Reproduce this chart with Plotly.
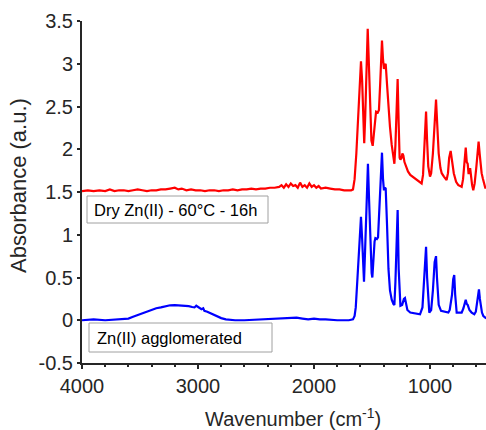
import plotly.graph_objects as go

# Dry Zn(II) - 60°C - 16h (red, offset spectrum)
red_wn = [4000, 3950, 3900, 3850, 3800, 3760, 3720, 3680, 3640, 3600, 3560, 3520, 3480, 3440, 3400, 3360,
          3320, 3280, 3240, 3200, 3170, 3140, 3100, 3060, 3020, 2980, 2940, 2900, 2860, 2820, 2780, 2740,
          2700, 2660, 2620, 2580, 2540, 2500, 2460, 2420, 2380, 2340, 2300, 2280, 2260, 2240, 2220, 2200,
          2180, 2160, 2140, 2120, 2100, 2080, 2060, 2040, 2020, 2000, 1980, 1960, 1940, 1900, 1860, 1820,
          1780, 1740, 1700, 1680, 1664, 1650, 1635, 1620, 1605, 1595, 1585, 1575, 1567, 1558, 1548, 1537,
          1527, 1515, 1505, 1494, 1485, 1475, 1465, 1450, 1440, 1430, 1420, 1414, 1405, 1397, 1390, 1382,
          1370, 1358, 1345, 1330, 1315, 1307, 1298, 1288, 1279, 1270, 1262, 1255, 1245, 1238, 1230, 1220,
          1207, 1190, 1170, 1150, 1130, 1110, 1090, 1072, 1060, 1050, 1040, 1034, 1025, 1015, 1000, 990,
          975, 960, 948, 938, 925, 910, 899, 880, 857, 845, 835, 822, 810, 795, 775, 756, 740, 727, 715,
          703, 692, 683, 675, 668, 661, 654, 646, 637, 627, 615, 600, 590, 581, 572, 563, 555, 545, 535,
          524, 515]
red_abs = [1.51, 1.52, 1.51, 1.52, 1.51, 1.53, 1.51, 1.52, 1.52, 1.51, 1.52, 1.53, 1.52, 1.51, 1.52, 1.52,
           1.53, 1.53, 1.54, 1.55, 1.53, 1.54, 1.52, 1.53, 1.52, 1.52, 1.51, 1.52, 1.52, 1.51, 1.52, 1.52,
           1.53, 1.52, 1.53, 1.53, 1.54, 1.53, 1.54, 1.54, 1.55, 1.55, 1.56, 1.58, 1.55, 1.59, 1.56, 1.60,
           1.57, 1.58, 1.55, 1.61, 1.56, 1.58, 1.55, 1.60, 1.56, 1.58, 1.55, 1.57, 1.54, 1.55, 1.54, 1.53,
           1.53, 1.52, 1.52, 1.52, 1.53, 1.65, 1.95, 2.40, 2.85, 3.03, 2.80, 2.30, 2.07, 2.40, 3.05, 3.41,
           3.00, 2.40, 2.10, 2.04, 2.15, 2.35, 2.44, 2.43, 2.46, 2.75, 3.15, 3.27, 3.05, 2.94, 2.98, 3.00,
           2.75, 2.45, 2.26, 2.05, 1.90, 1.83, 2.05, 2.55, 2.82, 2.30, 1.90, 1.88, 1.90, 1.95, 1.93, 1.85,
           1.79, 1.74, 1.70, 1.68, 1.66, 1.64, 1.61, 1.60, 1.70, 2.05, 2.40, 2.44, 2.10, 1.80, 1.68, 1.72,
           1.95, 2.40, 2.58, 2.30, 1.95, 1.78, 1.72, 1.68, 1.64, 1.72, 1.90, 1.98, 1.88, 1.72, 1.62, 1.58,
           1.57, 1.56, 1.65, 1.90, 2.02, 1.85, 1.83, 1.72, 1.72, 1.78, 1.65, 1.58, 1.52, 1.60, 1.80, 2.00,
           2.09, 1.95, 1.80, 1.72, 1.66, 1.60, 1.55, 1.55]

# Zn(II) agglomerated (blue)
blue_wn = [4000, 3900, 3800, 3700, 3640, 3600, 3560, 3520, 3480, 3440, 3400, 3360, 3320, 3280, 3240, 3200,
           3160, 3120, 3080, 3050, 3030, 3015, 3005, 2990, 2970, 2955, 2945, 2920, 2890, 2860, 2830, 2800,
           2760, 2720, 2680, 2600, 2500, 2400, 2350, 2300, 2250, 2200, 2150, 2100, 2050, 2000, 1950, 1900,
           1850, 1800, 1700, 1664, 1650, 1640, 1625, 1610, 1595, 1585, 1575, 1569, 1560, 1548, 1535, 1525,
           1512, 1503, 1497, 1488, 1478, 1471, 1458, 1448, 1438, 1425, 1414, 1405, 1397, 1390, 1382, 1370,
           1358, 1345, 1330, 1315, 1307, 1298, 1288, 1279, 1270, 1262, 1255, 1240, 1225, 1216, 1207, 1195,
           1170, 1130, 1086, 1065, 1050, 1040, 1034, 1025, 1015, 1006, 990, 975, 960, 948, 940, 925, 905,
           880, 842, 830, 822, 810, 800, 791, 783, 775, 770, 745, 727, 712, 700, 692, 683, 675, 670, 660,
           641, 618, 605, 592, 585, 578, 570, 562, 552, 540, 524, 515]
blue_abs = [0.00, 0.01, 0.00, 0.01, 0.01, 0.02, 0.04, 0.06, 0.08, 0.10, 0.12, 0.14, 0.15, 0.165, 0.175, 0.177,
            0.175, 0.17, 0.165, 0.155, 0.15, 0.17, 0.16, 0.14, 0.13, 0.14, 0.11, 0.10, 0.08, 0.06, 0.04, 0.025,
            0.01, 0.005, 0.00, 0.00, 0.005, 0.01, 0.015, 0.02, 0.025, 0.02, 0.03, 0.02, 0.01, 0.02, 0.01, 0.01,
            0.005, 0.00, 0.00, 0.01, 0.05, 0.15, 0.50, 0.95, 1.21, 0.95, 0.55, 0.45, 0.80, 1.45, 1.83, 1.40,
            0.80, 0.55, 0.50, 0.75, 0.92, 0.96, 0.95, 0.97, 1.25, 1.75, 1.96, 1.65, 1.52, 1.55, 1.54, 1.10,
            0.60, 0.35, 0.24, 0.19, 0.18, 0.45, 1.00, 1.29, 0.60, 0.20, 0.17, 0.18, 0.25, 0.26, 0.18, 0.12,
            0.09, 0.08, 0.07, 0.15, 0.55, 0.82, 0.86, 0.50, 0.18, 0.09, 0.12, 0.35, 0.68, 0.75, 0.50, 0.18, 0.11,
            0.10, 0.09, 0.12, 0.18, 0.30, 0.48, 0.53, 0.30, 0.12, 0.09, 0.09, 0.09, 0.14, 0.21, 0.24, 0.19, 0.18, 0.16, 0.12,
            0.09, 0.07, 0.10, 0.25, 0.34, 0.36, 0.25, 0.14, 0.09, 0.05, 0.03, 0.02]

x_ticks = [4000, 3000, 2000, 1000]
y_ticks = [-0.5, 0, 0.5, 1, 1.5, 2, 2.5, 3, 3.5]
y_tick_text = ["-0.5", "0", "0.5", "1", "1.5", "2", "2.5", "3", "3.5"]
labels = ["Dry Zn(II) - 60°C - 16h", "Zn(II) agglomerated"]
x_title = "Wavenumber (cm<sup>-1</sup>)"
y_title = "Absorbance (a.u.)"

FONT = "Liberation Sans, Arial, sans-serif"
L, R, T, B = 82, 486, 21, 363
W, H = 486, 430

def px(x):
    return (x - L) / (R - L)

def py(y):
    return (B - y) / (B - T)

fig = go.Figure()
fig.add_trace(go.Scatter(x=red_wn, y=red_abs, mode="lines", line=dict(color="#ff0000", width=2.2),
                         name=labels[0], showlegend=False))
fig.add_trace(go.Scatter(x=blue_wn, y=blue_abs, mode="lines", line=dict(color="#0000ff", width=2.2),
                         name=labels[1], showlegend=False))

fig.update_layout(
    width=W, height=H,
    margin=dict(l=L, r=W - R, t=T, b=H - B),
    paper_bgcolor="white", plot_bgcolor="white",
    font=dict(family=FONT, color="#262626"),
    xaxis=dict(range=[4000, 4000 - (R - L) / 0.116], tickvals=x_ticks, ticks="outside", ticklen=4,
               tickwidth=2, tickcolor="#262626", showline=True, linecolor="#262626", linewidth=2,
               showgrid=False, zeroline=False, tickfont=dict(size=20, family=FONT),
               minor=dict(dtick=200, ticks="outside", ticklen=2, tickwidth=2, tickcolor="#262626", showgrid=False)),
    yaxis=dict(range=[-0.5, 3.5], tickvals=y_ticks, ticktext=y_tick_text, ticks="outside", ticklen=3,
               tickwidth=2, tickcolor="#262626", showline=True, linecolor="#262626", linewidth=2,
               showgrid=False, zeroline=False, tickfont=dict(size=20, family=FONT)),
)

# axis titles
fig.add_annotation(xref="paper", yref="paper", x=px(293), y=py(417), xanchor="center", yanchor="middle",
                   text=x_title, showarrow=False, font=dict(size=20, family=FONT, color="#262626"))
fig.add_annotation(xref="paper", yref="paper", x=px(19), y=py(186), xanchor="center", yanchor="middle",
                   text=y_title, textangle=-90, showarrow=False, font=dict(size=22, family=FONT, color="#262626"))

# legend boxes
boxes = [((87, 196, 268, 223), 92, labels[0]), ((89, 323, 272, 352), 95, labels[1])]
for (x0, y0, x1, y1), tx, txt in boxes:
    fig.add_shape(type="rect", xref="paper", yref="paper", x0=px(x0), x1=px(x1), y0=py(y1), y1=py(y0),
                  line=dict(color="#a0a0a0", width=1), fillcolor="white", layer="above")
    fig.add_annotation(xref="paper", yref="paper", x=px(tx), y=py((y0 + y1) / 2), xanchor="left",
                       yanchor="middle", text=txt, showarrow=False,
                       font=dict(size=16.5, family=FONT, color="#000000"))

fig.write_html("out.html")
